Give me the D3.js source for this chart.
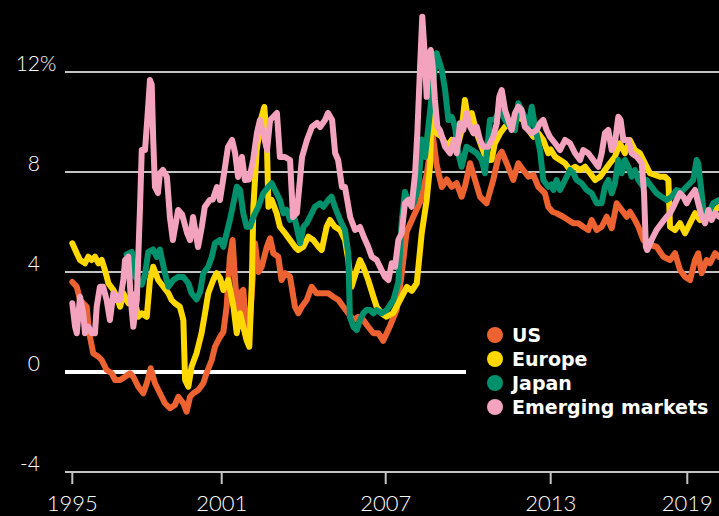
<!DOCTYPE html>
<html>
<head>
<meta charset="utf-8">
<script src="https://cdn.jsdelivr.net/npm/d3@7"></script>
<style>
  html, body { margin: 0; padding: 0; background: #000; }
  svg { display: block; }
</style>
</head>
<body>
<div id="chart"></div>
<script>
// values: [decimal year, % yield]
var usData = [[1995.0,3.6],[1995.18,3.41],[1995.31,2.88],[1995.58,2.61],[1995.64,1.95],[1995.71,1.41],[1995.84,0.75],[1996.05,0.61],[1996.18,0.48],[1996.38,0.08],[1996.58,-0.05],[1996.72,-0.32],[1996.92,-0.32],[1997.12,-0.19],[1997.32,-0.05],[1997.45,-0.19],[1997.65,-0.59],[1997.85,-0.85],[1997.99,-0.45],[1998.15,0.15],[1998.32,-0.45],[1998.52,-0.85],[1998.72,-1.25],[1998.92,-1.45],[1999.12,-1.32],[1999.26,-0.99],[1999.46,-1.25],[1999.59,-1.59],[1999.73,-0.99],[1999.86,-0.85],[2000.06,-0.72],[2000.26,-0.45],[2000.39,-0.05],[2000.6,0.48],[2000.73,1.01],[2000.93,1.4],[2001.06,1.6],[2001.18,2.6],[2001.3,4.6],[2001.4,5.28],[2001.49,3.68],[2001.61,1.95],[2001.67,3.15],[2001.79,3.28],[2001.91,1.55],[2002.04,2.2],[2002.22,5.15],[2002.34,4.0],[2002.46,4.2],[2002.65,5.0],[2002.77,5.35],[2002.89,4.75],[2003.07,4.61],[2003.19,3.68],[2003.32,3.95],[2003.5,3.81],[2003.68,2.61],[2003.8,2.35],[2003.93,2.61],[2004.11,2.88],[2004.29,3.41],[2004.47,3.15],[2004.72,3.15],[2004.9,3.15],[2005.08,3.01],[2005.27,2.88],[2005.45,2.61],[2005.63,2.35],[2005.82,2.08],[2006.0,2.21],[2006.18,2.08],[2006.36,1.81],[2006.55,1.55],[2006.73,1.55],[2006.91,1.25],[2007.16,1.85],[2007.4,2.5],[2007.58,3.9],[2007.76,5.6],[2008.0,6.2],[2008.25,6.8],[2008.49,7.9],[2008.71,9.5],[2008.85,8.3],[2009.04,7.4],[2009.22,7.7],[2009.4,7.41],[2009.58,7.55],[2009.76,7.01],[2009.88,7.41],[2010.07,8.35],[2010.25,7.68],[2010.43,7.01],[2010.67,6.75],[2010.91,7.68],[2011.1,8.61],[2011.22,8.81],[2011.4,8.35],[2011.64,7.68],[2011.82,8.35],[2012.0,8.08],[2012.19,7.81],[2012.37,7.88],[2012.55,7.41],[2012.79,7.15],[2012.91,6.61],[2013.09,6.4],[2013.26,6.35],[2013.55,6.21],[2013.77,6.08],[2013.99,5.95],[2014.21,5.95],[2014.43,5.81],[2014.65,5.68],[2014.8,6.08],[2015.02,5.68],[2015.24,5.81],[2015.46,6.21],[2015.68,5.75],[2015.9,6.75],[2016.12,6.48],[2016.34,6.21],[2016.48,6.41],[2016.7,6.08],[2016.85,5.81],[2017.07,5.28],[2017.36,5.08],[2017.65,5.01],[2017.95,4.61],[2018.24,4.48],[2018.46,4.75],[2018.68,4.08],[2018.9,3.81],[2019.12,3.68],[2019.34,4.48],[2019.48,4.75],[2019.63,3.95],[2019.85,4.48],[2020.0,4.35],[2020.22,4.75],[2020.4,4.6]];

var europeData = [[1995.0,5.15],[1995.18,4.75],[1995.31,4.48],[1995.51,4.35],[1995.64,4.61],[1995.78,4.48],[1995.91,4.61],[1996.05,4.35],[1996.18,4.48],[1996.31,4.08],[1996.45,3.55],[1996.65,3.28],[1996.78,3.01],[1996.92,2.61],[1997.05,3.15],[1997.25,2.75],[1997.45,3.1],[1997.65,2.21],[1997.79,2.35],[1997.99,2.21],[1998.12,3.68],[1998.25,4.21],[1998.45,3.68],[1998.66,3.41],[1998.86,3.15],[1998.99,2.88],[1999.12,2.75],[1999.32,2.61],[1999.46,2.08],[1999.53,-0.32],[1999.66,-0.59],[1999.79,0.21],[1999.99,0.75],[2000.19,1.55],[2000.33,2.35],[2000.46,3.15],[2000.66,3.68],[2000.8,3.95],[2000.94,3.75],[2001.06,3.28],[2001.24,3.68],[2001.43,2.61],[2001.55,1.55],[2001.67,2.35],[2001.79,1.81],[2001.91,1.28],[2002.01,1.01],[2002.1,3.5],[2002.16,6.61],[2002.28,8.88],[2002.46,10.21],[2002.56,10.6],[2002.65,9.28],[2002.71,6.61],[2002.83,6.88],[2003.01,6.35],[2003.13,5.81],[2003.32,5.55],[2003.5,5.28],[2003.68,5.01],[2003.8,4.88],[2003.99,5.01],[2004.17,5.41],[2004.35,5.28],[2004.54,5.01],[2004.66,4.88],[2004.84,5.81],[2004.96,6.08],[2005.14,5.81],[2005.33,5.68],[2005.51,5.28],[2005.63,4.48],[2005.75,3.41],[2005.94,4.08],[2006.06,4.48],[2006.18,4.21],[2006.36,3.68],[2006.55,3.01],[2006.67,2.61],[2006.85,2.35],[2007.03,2.21],[2007.27,2.36],[2007.52,2.88],[2007.77,3.4],[2007.95,3.25],[2008.13,3.55],[2008.31,5.55],[2008.49,6.88],[2008.61,8.21],[2008.67,10.48],[2008.85,9.55],[2009.04,9.41],[2009.22,9.01],[2009.4,9.28],[2009.58,8.88],[2009.76,9.68],[2009.88,10.88],[2010.0,10.08],[2010.13,10.35],[2010.31,9.55],[2010.49,9.01],[2010.67,8.48],[2010.85,8.48],[2010.97,9.15],[2011.16,9.55],[2011.34,9.81],[2011.52,9.95],[2011.64,9.81],[2011.82,10.21],[2012.0,10.08],[2012.19,9.68],[2012.37,9.41],[2012.55,9.55],[2012.73,9.28],[2012.91,8.75],[2013.0,8.9],[2013.19,8.61],[2013.41,8.48],[2013.63,8.35],[2013.85,8.08],[2014.07,8.21],[2014.29,8.08],[2014.51,8.21],[2014.73,7.95],[2014.95,7.68],[2015.17,7.81],[2015.38,8.08],[2015.6,8.35],[2015.82,8.61],[2016.04,9.15],[2016.26,8.75],[2016.48,9.28],[2016.7,8.88],[2016.92,8.75],[2017.14,8.35],[2017.36,7.95],[2017.58,7.88],[2017.8,7.81],[2018.02,7.81],[2018.17,7.68],[2018.24,5.81],[2018.46,5.68],[2018.68,5.95],[2018.9,5.55],[2019.12,5.95],[2019.34,6.35],[2019.56,6.08],[2019.78,6.21],[2020.0,6.3],[2020.22,6.48],[2020.4,6.6]];

var japanData = [[1997.18,4.7],[1997.39,4.8],[1997.52,3.8],[1997.79,3.5],[1997.92,3.9],[1998.05,4.8],[1998.25,4.9],[1998.39,4.6],[1998.52,4.9],[1998.72,3.95],[1998.86,3.41],[1999.06,3.68],[1999.26,3.81],[1999.46,3.8],[1999.66,3.55],[1999.79,3.15],[1999.99,2.9],[2000.13,3.2],[2000.26,3.95],[2000.46,4.21],[2000.6,4.6],[2000.73,5.15],[2000.93,5.28],[2001.06,5.01],[2001.18,5.55],[2001.3,6.08],[2001.43,6.75],[2001.55,7.41],[2001.67,7.28],[2001.79,6.35],[2001.91,5.81],[2002.04,5.81],[2002.16,6.21],[2002.34,6.61],[2002.52,7.15],[2002.71,7.41],[2002.83,7.55],[2002.95,7.28],[2003.13,6.88],[2003.26,6.35],[2003.38,6.48],[2003.5,6.08],[2003.62,6.35],[2003.74,5.81],[2003.87,5.15],[2003.99,5.81],[2004.11,5.95],[2004.23,6.21],[2004.41,6.61],[2004.6,6.75],[2004.72,6.61],[2004.9,6.88],[2005.02,7.01],[2005.14,6.61],[2005.33,6.08],[2005.51,5.68],[2005.63,4.75],[2005.69,2.21],[2005.82,1.81],[2005.94,1.68],[2006.06,2.08],[2006.18,2.35],[2006.3,2.48],[2006.43,2.48],[2006.55,2.35],[2006.67,2.48],[2006.85,2.35],[2007.04,2.48],[2007.28,2.88],[2007.46,3.6],[2007.58,6.0],[2007.7,7.2],[2007.82,6.8],[2008.0,6.7],[2008.19,7.4],[2008.31,9.3],[2008.43,8.6],[2008.59,10.2],[2008.73,11.6],[2008.85,12.75],[2009.04,12.08],[2009.16,11.28],[2009.28,10.08],[2009.4,10.2],[2009.52,9.81],[2009.64,8.75],[2009.76,8.21],[2009.94,9.01],[2010.13,8.88],[2010.31,8.75],[2010.49,8.48],[2010.61,7.95],[2010.7,9.0],[2010.79,10.08],[2010.97,10.1],[2011.16,10.48],[2011.34,10.08],[2011.52,9.81],[2011.7,9.68],[2011.82,10.75],[2012.0,10.35],[2012.19,9.81],[2012.31,10.61],[2012.43,9.8],[2012.61,8.88],[2012.73,7.68],[2012.91,7.41],[2013.03,7.5],[2013.12,7.28],[2013.26,7.68],[2013.41,7.28],[2013.63,7.68],[2013.85,8.08],[2013.99,7.95],[2014.14,7.68],[2014.36,7.55],[2014.58,7.28],[2014.8,7.15],[2015.02,6.75],[2015.24,6.75],[2015.38,7.41],[2015.53,7.68],[2015.68,7.15],[2015.82,7.55],[2015.97,8.48],[2016.12,7.95],[2016.26,8.48],[2016.41,8.21],[2016.56,7.81],[2016.7,8.08],[2016.85,7.68],[2017.07,7.41],[2017.21,7.68],[2017.43,7.41],[2017.65,7.15],[2017.87,7.01],[2018.09,6.88],[2018.31,7.01],[2018.53,7.28],[2018.75,7.21],[2018.97,7.41],[2019.12,7.55],[2019.26,7.68],[2019.41,8.48],[2019.48,8.35],[2019.63,7.15],[2019.71,6.48],[2019.93,6.35],[2020.14,6.75],[2020.4,6.88]];

var emData = [[1995.0,2.75],[1995.11,1.81],[1995.18,1.55],[1995.31,3.01],[1995.44,2.35],[1995.51,1.55],[1995.64,1.81],[1995.78,1.55],[1995.91,1.55],[1995.98,2.61],[1996.11,3.41],[1996.24,3.41],[1996.38,2.88],[1996.51,2.08],[1996.65,3.15],[1996.78,2.88],[1996.92,2.88],[1997.05,3.68],[1997.12,4.48],[1997.25,4.61],[1997.35,2.88],[1997.45,1.81],[1997.59,2.88],[1997.72,6.61],[1997.79,8.88],[1997.92,8.88],[1998.01,10.08],[1998.12,11.68],[1998.19,11.5],[1998.25,9.28],[1998.32,7.4],[1998.44,7.16],[1998.52,7.95],[1998.64,8.08],[1998.8,7.8],[1998.92,6.2],[1999.04,5.28],[1999.25,6.48],[1999.41,6.3],[1999.61,5.56],[1999.73,5.28],[1999.85,6.2],[2000.05,5.0],[2000.2,5.8],[2000.32,6.6],[2000.52,6.88],[2000.64,6.9],[2000.81,7.4],[2000.93,6.88],[2001.05,7.68],[2001.23,9.0],[2001.38,9.28],[2001.49,8.76],[2001.6,7.8],[2001.74,8.6],[2001.85,7.68],[2002.0,7.7],[2002.15,8.48],[2002.29,9.56],[2002.4,10.08],[2002.51,9.56],[2002.66,8.88],[2002.77,10.08],[2002.88,10.2],[2003.02,10.36],[2003.13,8.6],[2003.31,8.6],[2003.5,8.48],[2003.61,6.2],[2003.75,6.36],[2003.94,8.6],[2004.12,9.28],[2004.3,9.8],[2004.49,9.96],[2004.6,9.8],[2004.78,10.08],[2004.89,10.36],[2005.04,10.08],[2005.15,8.76],[2005.26,8.48],[2005.4,7.4],[2005.51,7.4],[2005.7,6.2],[2005.88,5.68],[2006.06,5.8],[2006.2,5.4],[2006.36,5.01],[2006.49,4.61],[2006.67,4.48],[2006.79,4.21],[2006.97,3.81],[2007.1,3.68],[2007.22,4.35],[2007.34,4.21],[2007.46,5.28],[2007.58,5.55],[2007.7,6.75],[2007.82,6.88],[2007.94,6.61],[2008.07,7.95],[2008.15,9.55],[2008.25,12.21],[2008.33,14.21],[2008.41,12.88],[2008.49,11.01],[2008.55,12.48],[2008.64,12.88],[2008.71,12.21],[2008.79,10.88],[2008.88,9.81],[2008.97,9.68],[2009.16,9.01],[2009.34,8.75],[2009.48,9.28],[2009.58,8.75],[2009.7,9.95],[2009.82,9.68],[2009.94,10.35],[2010.07,9.81],[2010.19,9.55],[2010.31,9.81],[2010.43,9.28],[2010.55,9.01],[2010.73,9.01],[2010.91,9.41],[2011.04,9.95],[2011.13,11.01],[2011.22,11.28],[2011.34,10.48],[2011.46,10.08],[2011.58,9.68],[2011.7,10.35],[2011.82,10.61],[2011.94,10.48],[2012.06,9.81],[2012.19,9.68],[2012.31,9.55],[2012.49,9.68],[2012.61,9.95],[2012.73,10.08],[2012.85,9.68],[2012.97,9.41],[2013.19,9.15],[2013.41,8.88],[2013.63,9.28],[2013.85,9.15],[2014.07,8.75],[2014.29,8.48],[2014.43,8.88],[2014.65,8.75],[2014.87,8.48],[2015.09,8.21],[2015.24,8.75],[2015.38,9.55],[2015.53,9.68],[2015.68,8.88],[2015.82,9.15],[2015.97,10.21],[2016.07,10.08],[2016.19,9.28],[2016.41,9.28],[2016.56,8.75],[2016.78,8.61],[2017.0,8.35],[2017.1,7.15],[2017.18,5.01],[2017.24,4.88],[2017.43,5.28],[2017.65,5.68],[2017.87,5.95],[2018.09,6.21],[2018.24,6.35],[2018.39,6.61],[2018.53,6.88],[2018.68,7.15],[2018.83,7.01],[2018.97,6.75],[2019.12,7.01],[2019.34,7.28],[2019.48,6.75],[2019.63,6.21],[2019.78,5.95],[2019.93,6.48],[2020.07,6.08],[2020.22,6.35],[2020.4,6.21]];

var seriesNames = ["US", "Europe", "Japan", "Emerging markets"];
var seriesColors = ["#ec6230", "#ffd800", "#00906c", "#f3a3bd"];
var seriesData = [usData, europeData, japanData, emData];

var yearTicks = [1995, 2001, 2007, 2013, 2019];
var yTicks = [-4, 0, 4, 8, 12];

var width = 719, height = 516;

var svg = d3.select("#chart")
  .append("svg")
    .attr("width", width)
    .attr("height", height);

// x axis isn't evenly spaced in the original, so use a piecewise scale
var x = d3.scaleLinear()
    .domain(yearTicks)
    .range([72.3, 221.7, 385.7, 550.7, 687.3]);

var y = d3.scaleLinear()
    .domain([-4, 12])
    .range([472, 72]);

var gridLeft = 65;

// horizontal gridlines
svg.append("g")
  .selectAll("line")
  .data(yTicks.filter(function(d) { return d > 0; }))
  .enter().append("line")
    .attr("x1", gridLeft)
    .attr("x2", width)
    .attr("y1", function(d) { return y(d); })
    .attr("y2", function(d) { return y(d); })
    .attr("stroke", "#c4c4c4")
    .attr("stroke-width", 2);

// y labels
var yLab = svg.append("g")
    .attr("font-family", "Lato, 'Open Sans', sans-serif")
    .attr("font-weight", 300)
    .attr("font-size", 21)
    .attr("fill", "#fff");

yLab.selectAll("text")
  .data(yTicks)
  .enter().append("text")
    .attr("x", 40)
    .attr("y", function(d) { return y(d) - 1; })
    .attr("text-anchor", "end")
    .text(function(d) { return d; });

yLab.append("text")
    .attr("x", 40)
    .attr("y", y(12) - 1)
    .text("%");

// bottom axis
var xAxis = svg.append("g")
    .attr("transform", "translate(0," + y(-4) + ")");

xAxis.append("line")
    .attr("x1", gridLeft)
    .attr("x2", width)
    .attr("stroke", "#c4c4c4")
    .attr("stroke-width", 2);

xAxis.selectAll(".tick")
  .data(yearTicks)
  .enter().append("line")
    .attr("class", "tick")
    .attr("x1", function(d) { return x(d); })
    .attr("x2", function(d) { return x(d); })
    .attr("y1", 0)
    .attr("y2", 12)
    .attr("stroke", "#c4c4c4")
    .attr("stroke-width", 2);

xAxis.selectAll("text")
  .data(yearTicks)
  .enter().append("text")
    .attr("x", function(d) { return x(d); })
    .attr("y", 39)
    .attr("text-anchor", "middle")
    .attr("font-family", "Lato, 'Open Sans', sans-serif")
    .attr("font-weight", 300)
    .attr("font-size", 22)
    .attr("fill", "#fff")
    .text(function(d) { return d; });

// zero line, stops before the legend
svg.append("line")
    .attr("x1", gridLeft)
    .attr("x2", 466)
    .attr("y1", y(0))
    .attr("y2", y(0))
    .attr("stroke", "#fff")
    .attr("stroke-width", 4);

// the lines
var line = d3.line()
    .x(function(d) { return x(d[0]); })
    .y(function(d) { return y(d[1]); });

svg.append("g")
  .selectAll("path")
  .data(seriesData)
  .enter().append("path")
    .attr("d", line)
    .attr("fill", "none")
    .attr("stroke", function(d, i) { return seriesColors[i]; })
    .attr("stroke-width", 6)
    .attr("stroke-linejoin", "round")
    .attr("stroke-linecap", "round");

// legend
var legend = svg.append("g")
    .attr("transform", "translate(495,335)");

var item = legend.selectAll("g")
  .data(seriesNames)
  .enter().append("g")
    .attr("transform", function(d, i) { return "translate(0," + i * 24 + ")"; });

item.append("circle")
    .attr("r", 8)
    .attr("fill", function(d, i) { return seriesColors[i]; });

item.append("text")
    .attr("x", 17)
    .attr("y", 7)
    .attr("font-family", "'DejaVu Sans', sans-serif")
    .attr("font-weight", 700)
    .attr("font-size", 19)
    .attr("fill", "#fff")
    .text(function(d) { return d; });
</script>
</body>
</html>
